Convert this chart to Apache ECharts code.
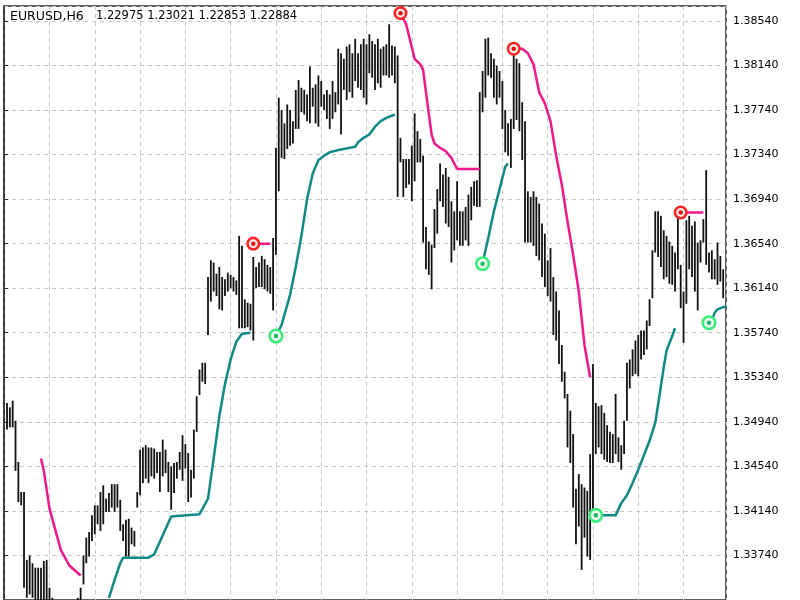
<!DOCTYPE html>
<html>
<head>
<meta charset="utf-8">
<title>EURUSD,H6</title>
<script src="https://cdn.jsdelivr.net/npm/echarts@6/dist/echarts.min.js"></script>
<style>
  html, body { margin: 0; padding: 0; background: #fff; }
  #chart { width: 800px; height: 600px; }
</style>
</head>
<body>
<div id="chart"></div>
<script>
// header text
const symbolLabel = 'EURUSD,H6';
const lastQuote = ['1.22975', '1.23021', '1.22853', '1.22884'];

// bar highs / lows, bar 1 is the leftmost visible bar
const highs = [
  1.3511, 1.3507, 1.3513, 1.3495, 1.3458, 1.3431, 1.3431, 1.3370, 1.3374, 1.3367, 1.3363, 1.3363, 1.3363, 1.3369, 1.3370, 1.3345,
  1.3336, 1.3332, 1.3328, 1.3323, 1.3322, 1.3319, 1.3323, 1.3325, 1.3328, 1.3336, 1.3345, 1.3374, 1.3390, 1.3395, 1.3410, 1.3419,
  1.3419, 1.3431, 1.3437, 1.3425, 1.3430, 1.3438, 1.3438, 1.3438, 1.3424, 1.3402, 1.3406, 1.3407, 1.3399, 1.3396, 1.3431, 1.3469,
  1.3471, 1.3473, 1.3471, 1.3471, 1.3470, 1.3467, 1.3467, 1.3478, 1.3469, 1.3458, 1.3454, 1.3457, 1.3458, 1.3467, 1.3482, 1.3474,
  1.3466, 1.3451, 1.3487, 1.3517, 1.3541, 1.3547, 1.3547, 1.3624, 1.3639, 1.3637, 1.3627, 1.3633, 1.3624, 1.3622, 1.3628, 1.3626,
  1.3624, 1.3621, 1.3661, 1.3652, 1.3604, 1.3601, 1.3600, 1.3642, 1.3633, 1.3637, 1.3643, 1.3640, 1.3635, 1.3633, 1.3659, 1.3740,
  1.3785, 1.3774, 1.3762, 1.3779, 1.3774, 1.3764, 1.3792, 1.3801, 1.3794, 1.3792, 1.3788, 1.3813, 1.3794, 1.3797, 1.3805, 1.3800,
  1.3788, 1.3792, 1.3788, 1.3800, 1.3790, 1.3829, 1.3825, 1.3820, 1.3831, 1.3833, 1.3825, 1.3838, 1.3825, 1.3833, 1.3838, 1.3833,
  1.3842, 1.3836, 1.3833, 1.3838, 1.3829, 1.3831, 1.3833, 1.3851, 1.3832, 1.3831, 1.3823, 1.3749, 1.3730, 1.3730, 1.3730, 1.3742,
  1.3771, 1.3755, 1.3748, 1.3733, 1.3669, 1.3656, 1.3653, 1.3685, 1.3703, 1.3726, 1.3716, 1.3722, 1.3714, 1.3692, 1.3683, 1.3710,
  1.3683, 1.3683, 1.3687, 1.3698, 1.3705, 1.3710, 1.3711, 1.3790, 1.3809, 1.3838, 1.3839, 1.3825, 1.3820, 1.3814, 1.3809, 1.3800,
  1.3774, 1.3762, 1.3766, 1.3829, 1.3820, 1.3816, 1.3781, 1.3764, 1.3701, 1.3696, 1.3701, 1.3696, 1.3690, 1.3672, 1.3663, 1.3639,
  1.3650, 1.3624, 1.3611, 1.3594, 1.3563, 1.3539, 1.3519, 1.3504, 1.3483, 1.3434, 1.3447, 1.3438, 1.3435, 1.3432, 1.3465, 1.3546,
  1.3511, 1.3508, 1.3509, 1.3502, 1.3491, 1.3485, 1.3483, 1.3519, 1.3480, 1.3473, 1.3495, 1.3547, 1.3550, 1.3559, 1.3567, 1.3572,
  1.3576, 1.3576, 1.3585, 1.3604, 1.3648, 1.3683, 1.3683, 1.3679, 1.3666, 1.3661, 1.3656, 1.3652, 1.3646, 1.3681, 1.3635, 1.3611,
  1.3675, 1.3679, 1.3670, 1.3674, 1.3655, 1.3657, 1.3676, 1.3720, 1.3646, 1.3648, 1.3640, 1.3655, 1.3643, 1.3631
];
const lows = [
  1.3487, 1.3489, 1.3489, 1.3450, 1.3422, 1.3419, 1.3345, 1.3336, 1.3339, 1.3336, 1.3334, 1.3332, 1.3332, 1.3334, 1.3332, 1.3319,
  1.3310, 1.3306, 1.3302, 1.3297, 1.3295, 1.3293, 1.3297, 1.3302, 1.3306, 1.3310, 1.3323, 1.3348, 1.3367, 1.3373, 1.3387, 1.3393,
  1.3402, 1.3396, 1.3402, 1.3413, 1.3413, 1.3417, 1.3413, 1.3417, 1.3396, 1.3387, 1.3373, 1.3373, 1.3384, 1.3382, 1.3417, 1.3428,
  1.3439, 1.3443, 1.3439, 1.3445, 1.3443, 1.3448, 1.3431, 1.3445, 1.3448, 1.3431, 1.3415, 1.3430, 1.3443, 1.3451, 1.3441, 1.3452,
  1.3422, 1.3426, 1.3443, 1.3485, 1.3518, 1.3530, 1.3528, 1.3572, 1.3602, 1.3611, 1.3607, 1.3595, 1.3594, 1.3607, 1.3611, 1.3614,
  1.3611, 1.3608, 1.3578, 1.3578, 1.3578, 1.3579, 1.3576, 1.3567, 1.3614, 1.3615, 1.3615, 1.3613, 1.3611, 1.3609, 1.3594, 1.3644,
  1.3701, 1.3731, 1.3730, 1.3739, 1.3742, 1.3744, 1.3757, 1.3757, 1.3772, 1.3770, 1.3764, 1.3762, 1.3777, 1.3762, 1.3759, 1.3777,
  1.3774, 1.3766, 1.3757, 1.3766, 1.3772, 1.3779, 1.3752, 1.3792, 1.3783, 1.3790, 1.3785, 1.3800, 1.3794, 1.3792, 1.3785, 1.3779,
  1.3807, 1.3803, 1.3792, 1.3798, 1.3794, 1.3805, 1.3805, 1.3803, 1.3805, 1.3798, 1.3696, 1.3727, 1.3696, 1.3704, 1.3707, 1.3692,
  1.3710, 1.3727, 1.3727, 1.3655, 1.3631, 1.3626, 1.3613, 1.3650, 1.3663, 1.3692, 1.3687, 1.3672, 1.3669, 1.3637, 1.3648, 1.3657,
  1.3652, 1.3652, 1.3657, 1.3652, 1.3675, 1.3688, 1.3687, 1.3687, 1.3772, 1.3785, 1.3805, 1.3803, 1.3785, 1.3779, 1.3785, 1.3757,
  1.3736, 1.3733, 1.3722, 1.3757, 1.3765, 1.3755, 1.3729, 1.3655, 1.3655, 1.3655, 1.3652, 1.3643, 1.3639, 1.3624, 1.3615, 1.3607,
  1.3602, 1.3572, 1.3567, 1.3546, 1.3530, 1.3515, 1.3471, 1.3457, 1.3417, 1.3384, 1.3400, 1.3361, 1.3390, 1.3373, 1.3370, 1.3410,
  1.3465, 1.3471, 1.3465, 1.3460, 1.3458, 1.3457, 1.3457, 1.3465, 1.3458, 1.3451, 1.3465, 1.3495, 1.3524, 1.3535, 1.3537, 1.3535,
  1.3550, 1.3554, 1.3559, 1.3580, 1.3605, 1.3646, 1.3642, 1.3633, 1.3622, 1.3624, 1.3618, 1.3617, 1.3611, 1.3631, 1.3596, 1.3565,
  1.3600, 1.3631, 1.3624, 1.3611, 1.3594, 1.3637, 1.3655, 1.3635, 1.3628, 1.3622, 1.3622, 1.3617, 1.3620, 1.3605
];

// trailing stop lines: [bar, price]
const upTrend = [
  [[37, 1.3336], [39, 1.3352], [41, 1.3367], [42, 1.3372], [51, 1.3372], [53, 1.3375], [59, 1.3409], [69, 1.3411],
   [72, 1.3425], [74, 1.3461], [76, 1.3499], [78, 1.3528], [80, 1.3550], [82, 1.3566], [84, 1.3573], [87, 1.3574]],
  [[96, 1.3571], [98, 1.3581], [101, 1.3608], [103, 1.3633], [105, 1.3661], [107, 1.3694], [109, 1.3717], [111, 1.3729],
   [113, 1.3733], [115, 1.3736], [118, 1.3738], [122, 1.3740], [124, 1.3741], [125, 1.3745], [127, 1.3749], [129, 1.3752],
   [131, 1.3759], [133, 1.3764], [135, 1.3767], [138, 1.3770]],
  [[169, 1.3636], [171, 1.3659], [173, 1.3683], [175, 1.3703], [177, 1.3723], [178, 1.3726]],
  [[209, 1.3410], [216, 1.3410], [218, 1.3421], [220, 1.3428], [222, 1.3439], [224, 1.3451], [226, 1.3464], [228, 1.3477],
   [230, 1.3493], [232, 1.3526], [233, 1.3543], [234, 1.3558], [236, 1.3571], [237, 1.3578]],
  [[249, 1.3583], [250, 1.3585], [251, 1.3592], [252, 1.3595], [254, 1.3597], [255, 1.3597]]
];
const downTrend = [
  [[13, 1.3461], [14, 1.3450], [16, 1.3416], [20, 1.3379], [23, 1.3365], [27, 1.3356]],
  [[88, 1.3654], [94, 1.3654]],
  [[140, 1.3861], [142, 1.3851], [145, 1.3820], [147, 1.3815], [148, 1.3810], [149, 1.3790], [151, 1.3752], [152, 1.3744],
   [154, 1.3740], [156, 1.3737], [158, 1.3731], [160, 1.3721], [168, 1.3721]],
  [[180, 1.3829], [183, 1.3829], [185, 1.3825], [187, 1.3815], [189, 1.3790], [191, 1.3780], [193, 1.3764], [195, 1.3733],
   [197, 1.3707], [199, 1.3674], [201, 1.3644], [203, 1.3611], [205, 1.3563], [207, 1.3534]],
  [[239, 1.3682], [247, 1.3682]]
];

// signal arrows
const sellSignals = [[88, 1.3654], [140, 1.3861], [180, 1.3829], [239, 1.3682]];
const buySignals = [[96, 1.3571], [169, 1.3636], [209, 1.3410], [249, 1.3583]];

const bars = highs.map((h, k) => [k + 1, lows[k], h]);

const chart = echarts.init(document.getElementById('chart'));

const gridLine = { show: true, lineStyle: { color: '#c6c6c6', width: 1, type: [4, 4] } };

function trendSeries(segments, color) {
  return segments.map(seg => ({
    type: 'line',
    data: seg,
    showSymbol: false,
    silent: true,
    z: 3,
    lineStyle: { color: color, width: 2.5 }
  }));
}

function signalSeries(points, ring, fill, dot, size) {
  return [{
    type: 'scatter',
    data: points,
    symbol: 'circle',
    symbolSize: size,
    silent: true,
    z: 5,
    itemStyle: { color: fill, borderColor: ring, borderWidth: 2.6, opacity: 1 }
  }, {
    type: 'scatter',
    data: points,
    symbol: 'circle',
    symbolSize: 4.5,
    silent: true,
    z: 6,
    itemStyle: { color: dot, opacity: 1 }
  }];
}

chart.setOption({
  animation: false,
  backgroundColor: '#fff',
  grid: {
    left: 4.2,
    top: 6,
    width: 721.8,
    height: 611.6,
    show: true,
    borderColor: '#2a2a2a',
    borderWidth: 1.5,
    backgroundColor: '#fff'
  },
  graphic: [
    { type: 'text', left: 10, top: 10, z: 10,
      style: { text: symbolLabel, font: '12.5px "DejaVu Sans"', fill: '#000' } },
    { type: 'text', left: 96, top: 10.5, z: 10,
      style: { text: lastQuote.join(' '), font: '11.5px "DejaVu Sans"', fill: '#000' } }
  ],
  xAxis: {
    type: 'value',
    min: 0,
    max: 255,
    interval: 16,
    axisLine: { show: false },
    axisTick: { show: false },
    axisLabel: { show: false },
    splitLine: gridLine
  },
  yAxis: {
    type: 'value',
    position: 'right',
    min: 1.3334,
    max: 1.38674,
    interval: 0.004,
    axisLine: { show: true, lineStyle: { color: '#2a2a2a', width: 1.5 } },
    axisTick: { show: true, length: 4, lineStyle: { color: '#2a2a2a', width: 1 } },
    axisLabel: {
      margin: 7,
      color: '#000',
      fontSize: 11,
      fontFamily: 'DejaVu Sans',
      showMaxLabel: false,
      showMinLabel: false,
      formatter: v => v.toFixed(5)
    },
    splitLine: gridLine
  },
  series: [
    {
      type: 'custom',
      data: bars,
      encode: { x: 0, y: [1, 2] },
      silent: true,
      z: 2,
      renderItem: function (params, api) {
        const low = api.coord([api.value(0), api.value(1)]);
        const high = api.coord([api.value(0), api.value(2)]);
        return {
          type: 'line',
          shape: { x1: low[0], y1: low[1], x2: high[0], y2: high[1] },
          style: { stroke: '#111', lineWidth: 1.8 }
        };
      }
    },
    ...trendSeries(upTrend, '#0f8a86'),
    ...trendSeries(downTrend, '#f2168c'),
    ...signalSeries(sellSignals, '#ff2424', '#fff0f0', '#e01010', 11.5),
    ...signalSeries(buySignals, '#3bee7c', '#effff4', '#1fb864', 12.5)
  ]
});
</script>
</body>
</html>
